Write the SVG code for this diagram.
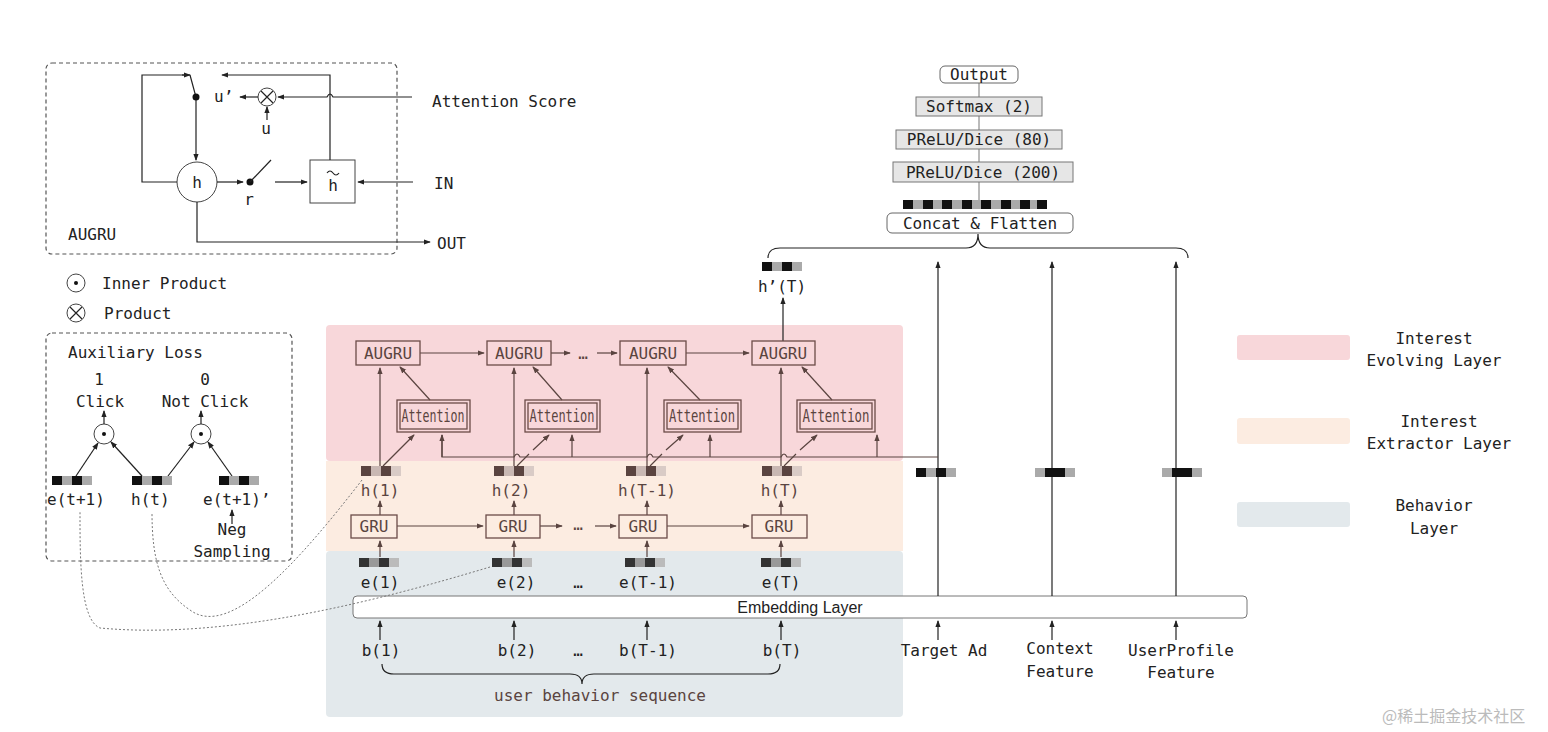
<svg xmlns="http://www.w3.org/2000/svg" width="1548" height="732" viewBox="0 0 1548 732">
<defs>
<marker id="a" viewBox="0 0 8 8" refX="7" refY="4" markerWidth="6" markerHeight="6" orient="auto"><path d="M0,1 L8,4 L0,7z" fill="#222"/></marker>
<marker id="b" viewBox="0 0 8 8" refX="7" refY="4" markerWidth="6" markerHeight="6" orient="auto"><path d="M0,1 L8,4 L0,7z" fill="#5a4440"/></marker>
<style>
text{font-family:"DejaVu Sans Mono",monospace;font-size:16px;fill:#222}
.c{text-anchor:middle}
.br{fill:#5a4440}
.at{font-size:17px}
.bx{fill:none;stroke:#6b4c48;stroke-width:1.3}
.ln{stroke:#222;stroke-width:1.2;fill:none}
.lb{stroke:#5a4440;stroke-width:1.2;fill:none}
.g{fill:#e6e6e6;stroke:#777;stroke-width:1}
.dash{fill:none;stroke:#555;stroke-dasharray:4 3;stroke-width:1.2}
.dot{fill:none;stroke:#777;stroke-dasharray:2 2;stroke-width:1}
</style>
</defs>
<rect width="1548" height="732" fill="#fff"/>
<rect x="326" y="325" width="577" height="136" rx="4" fill="#f8d7da"/>
<rect x="326" y="461" width="577" height="90" fill="#fcece1"/>
<rect x="326" y="551" width="577" height="166" rx="4" fill="#e3e9ec"/>
<g id="legend">
<rect x="1237" y="335" width="113" height="25" rx="3" fill="#f8d7da"/>
<rect x="1237" y="418" width="113" height="26" rx="3" fill="#fcece1"/>
<rect x="1237" y="502" width="113" height="25" rx="3" fill="#e3e9ec"/>
<text class="c" x="1434" y="344">Interest</text><text class="c" x="1434" y="366">Evolving Layer</text>
<text class="c" x="1439" y="427">Interest</text><text class="c" x="1439" y="449">Extractor Layer</text>
<text class="c" x="1434" y="511">Behavior</text><text class="c" x="1434" y="534">Layer</text>
</g>
<g id="augru-cell">
<rect x="46" y="63" width="351" height="191" rx="6" class="dash"/>
<text x="68" y="240">AUGRU</text>
<circle cx="197" cy="182" r="20" fill="#fff" stroke="#444"/>
<text class="c" x="197" y="188">h</text>
<rect x="310" y="160" width="45" height="43" fill="#fff" stroke="#444"/>
<text class="c" x="333" y="191">h</text>
<path d="M327,173 q3,-4 6,0 t6,0" stroke="#222" fill="none" stroke-width="1.2"/>
<path class="ln" d="M177,182 H142 V75 H188"/>
<path class="ln" d="M182,75 H190" marker-end="url(#a)"/>
<path class="ln" d="M190,75 L196,97 V160" marker-end="url(#a)"/>
<circle cx="196" cy="97" r="3.5" fill="#111"/>
<path class="ln" d="M330,160 V75 H222" marker-end="url(#a)"/>
<circle cx="267" cy="97" r="9" fill="#fff" stroke="#444"/>
<path class="ln" d="M261,91 L273,103 M273,91 L261,103"/>
<path class="ln" d="M258,97 H240" marker-end="url(#a)"/>
<text x="214" y="102">u’</text>
<path class="ln" d="M267,120 V107" marker-end="url(#a)"/>
<text class="c" x="266" y="134">u</text>
<path class="ln" d="M412,97 H333 q-3,-6 -6,0 H278" marker-end="url(#a)"/>
<path class="ln" d="M217,182 H243" marker-end="url(#a)"/>
<circle cx="250" cy="182" r="3.5" fill="#111"/>
<path class="ln" d="M250,182 L271,160"/>
<text class="c" x="249" y="205">r</text>
<path class="ln" d="M275,182 H307" marker-end="url(#a)"/>
<path class="ln" d="M413,182 H358" marker-end="url(#a)"/>
<path class="ln" d="M197,202 V242 H430" marker-end="url(#a)"/>
<text x="432" y="107">Attention Score</text>
<text x="434" y="189">IN</text>
<text x="437" y="249">OUT</text>
</g>
<g id="symbols">
<circle cx="76" cy="283" r="9" fill="none" stroke="#444"/><circle cx="76" cy="283" r="2" fill="#111"/>
<text x="102" y="289">Inner Product</text>
<circle cx="76" cy="313" r="9" fill="none" stroke="#444"/><path class="ln" d="M70,307 L82,319 M82,307 L70,319"/>
<text x="104" y="319">Product</text>
</g>
<g id="aux-loss">
<rect x="46" y="333" width="246" height="228" rx="6" class="dash"/>
<text x="68" y="358">Auxiliary Loss</text>
<text class="c" x="99" y="385">1</text><text class="c" x="100" y="407">Click</text>
<text class="c" x="205" y="385">0</text><text class="c" x="205" y="407">Not Click</text>
<circle cx="104" cy="434" r="10" fill="none" stroke="#444"/><circle cx="104" cy="434" r="2" fill="#111"/>
<circle cx="201" cy="434" r="10" fill="none" stroke="#444"/><circle cx="201" cy="434" r="2" fill="#111"/>
<path class="ln" d="M104,424 V411" marker-end="url(#a)"/>
<path class="ln" d="M201,424 V411" marker-end="url(#a)"/>
<path class="ln" d="M76,476 L98,443" marker-end="url(#a)"/>
<path class="ln" d="M142,476 L111,442" marker-end="url(#a)"/>
<path class="ln" d="M168,476 L194,442" marker-end="url(#a)"/>
<path class="ln" d="M232,476 L208,442" marker-end="url(#a)"/>
<g><rect x="52" y="476" width="10" height="9" fill="#111"/><rect x="62" y="476" width="10" height="9" fill="#aaa"/><rect x="72" y="476" width="10" height="9" fill="#111"/><rect x="82" y="476" width="10" height="9" fill="#aaa"/></g>
<g><rect x="132" y="476" width="10" height="9" fill="#111"/><rect x="142" y="476" width="10" height="9" fill="#aaa"/><rect x="152" y="476" width="10" height="9" fill="#111"/><rect x="162" y="476" width="10" height="9" fill="#aaa"/></g>
<g><rect x="219" y="476" width="10" height="9" fill="#111"/><rect x="229" y="476" width="10" height="9" fill="#aaa"/><rect x="239" y="476" width="10" height="9" fill="#111"/><rect x="249" y="476" width="10" height="9" fill="#aaa"/></g>
<text x="47" y="505">e(t+1)</text><text x="131" y="505">h(t)</text><text x="203" y="505">e(t+1)’</text>
<path class="ln" d="M232,524 V510" marker-end="url(#a)"/>
<text class="c" x="232" y="535">Neg</text><text class="c" x="232" y="557">Sampling</text>
</g>
<g id="embedding"><rect x="353" y="596" width="894" height="22" rx="4" fill="#fff" stroke="#777"/>
<text class="c" x="800" y="613" style="font-family:'Liberation Sans',sans-serif">Embedding Layer</text></g>
<g id="inputs">
<text class="c" x="381" y="656">b(1)</text><text class="c" x="517" y="656">b(2)</text><text class="c" x="578" y="656">…</text><text class="c" x="648" y="656">b(T-1)</text><text class="c" x="782" y="656">b(T)</text>
<path class="ln" d="M382,664 q0,10 12,10 H570 q12,0 12,10 q0,-10 12,-10 H768 q12,0 12,-10"/>
<text class="c br" x="600" y="701">user behavior sequence</text>
<text class="c" x="944" y="656">Target Ad</text>
<text class="c" x="1060" y="654">Context</text><text class="c" x="1060" y="677">Feature</text>
<text class="c" x="1181" y="656">UserProfile</text><text class="c" x="1181" y="678">Feature</text>
</g>
<g id="connectors">
<path class="ln" d="M380,640 V621" marker-end="url(#a)"/>
<path class="ln" d="M514,640 V621" marker-end="url(#a)"/>
<path class="ln" d="M647,640 V621" marker-end="url(#a)"/>
<path class="ln" d="M781,640 V621" marker-end="url(#a)"/>
<path class="ln" d="M938,640 V621" marker-end="url(#a)"/>
<path class="ln" d="M1052,640 V621" marker-end="url(#a)"/>
<path class="ln" d="M1176,640 V621" marker-end="url(#a)"/>
<path class="ln" d="M938,596 V262" marker-end="url(#a)"/>
<path class="ln" d="M1052,596 V262" marker-end="url(#a)"/>
<path class="ln" d="M1176,596 V262" marker-end="url(#a)"/>
<path class="ln" d="M768,258 q0,-10 12,-10 H966 q12,0 12,-14 q0,14 12,14 H1176 q12,0 12,10"/>
<path d="M979,200 V83" stroke="#777" fill="none"/>
<path class="ln" d="M783,341 V298" marker-end="url(#a)"/>
<path class="lb" d="M380,557 V541" marker-end="url(#b)"/>
<path class="lb" d="M514,557 V541" marker-end="url(#b)"/>
<path class="lb" d="M647,557 V541" marker-end="url(#b)"/>
<path class="lb" d="M781,557 V541" marker-end="url(#b)"/>
<path class="lb" d="M380,515 V501" marker-end="url(#b)"/>
<path class="lb" d="M514,515 V501" marker-end="url(#b)"/>
<path class="lb" d="M647,515 V501" marker-end="url(#b)"/>
<path class="lb" d="M781,515 V501" marker-end="url(#b)"/>
<path class="lb" d="M397,526 H483" marker-end="url(#b)"/>
<path class="lb" d="M540,526 H562" marker-end="url(#b)"/>
<path class="lb" d="M595,526 H616" marker-end="url(#b)"/>
<path class="lb" d="M667,526 H749" marker-end="url(#b)"/>
<path class="lb" d="M380,466 V368" marker-end="url(#b)"/>
<path class="lb" d="M514,466 V368" marker-end="url(#b)"/>
<path class="lb" d="M647,466 V368" marker-end="url(#b)"/>
<path class="lb" d="M781,466 V368" marker-end="url(#b)"/>
<path class="lb" d="M420,353 H484" marker-end="url(#b)"/>
<path class="lb" d="M551,353 H570" marker-end="url(#b)"/>
<path class="lb" d="M597,353 H617" marker-end="url(#b)"/>
<path class="lb" d="M686,353 H749" marker-end="url(#b)"/>
<path class="lb" d="M430,400 L400,367" marker-end="url(#b)"/>
<path class="lb" d="M562,400 L533,367" marker-end="url(#b)"/>
<path class="lb" d="M700,400 L668,367" marker-end="url(#b)"/>
<path class="lb" d="M832,400 L802,367" marker-end="url(#b)"/>
<path class="lb" d="M383,466 L414,435" marker-end="url(#b)"/>
<path class="lb" d="M517,466 L529,454 M533,450 L549,435" marker-end="url(#b)"/>
<path class="lb" d="M650,466 L662,454 M666,450 L683,435" marker-end="url(#b)"/>
<path class="lb" d="M784,466 L796,454 M800,450 L817,435" marker-end="url(#b)"/>
<path class="lb" d="M938,457 H787 q-3,-6 -6,0 H653 q-3,-6 -6,0 H520 q-3,-6 -6,0 H442 V435"/>
<path class="lb" d="M442,457 V435" marker-end="url(#b)"/>
<path class="lb" d="M572,457 V435" marker-end="url(#b)"/>
<path class="lb" d="M710,457 V435" marker-end="url(#b)"/>
<path class="lb" d="M877,457 V435" marker-end="url(#b)"/>
<path class="dot" d="M362,480 C300,560 230,640 190,610 C160,590 152,560 152,512"/>
<path class="dot" d="M490,567 C380,600 230,640 100,628 C80,620 80,560 80,512"/>
</g>
<g id="augru1"><rect class="bx" x="356" y="341" width="64" height="24"/><text class="c br" x="388" y="359">AUGRU</text></g>
<g id="augru2"><rect class="bx" x="487" y="341" width="64" height="24"/><text class="c br" x="519" y="359">AUGRU</text></g>
<text class="c br" x="583" y="359">…</text>
<g id="augru3"><rect class="bx" x="620" y="341" width="66" height="24"/><text class="c br" x="653" y="359">AUGRU</text></g>
<g id="augru4"><rect class="bx" x="752" y="341" width="63" height="24"/><text class="c br" x="783" y="359">AUGRU</text></g>
<g id="att1"><rect class="bx" x="397" y="400" width="73" height="32"/><rect class="bx" x="400" y="403" width="67" height="26"/><text class="c br at" x="433" y="422" textLength="63" lengthAdjust="spacingAndGlyphs">Attention</text></g>
<g id="att2"><rect class="bx" x="525" y="400" width="75" height="32"/><rect class="bx" x="528" y="403" width="69" height="26"/><text class="c br at" x="562" y="422" textLength="65" lengthAdjust="spacingAndGlyphs">Attention</text></g>
<g id="att3"><rect class="bx" x="664" y="400" width="77" height="32"/><rect class="bx" x="667" y="403" width="71" height="26"/><text class="c br at" x="702" y="422" textLength="66" lengthAdjust="spacingAndGlyphs">Attention</text></g>
<g id="att4"><rect class="bx" x="797" y="400" width="78" height="32"/><rect class="bx" x="800" y="403" width="72" height="26"/><text class="c br at" x="836" y="422" textLength="67" lengthAdjust="spacingAndGlyphs">Attention</text></g>
<g id="hvecs">
<g transform="translate(361,466)"><rect width="10" height="10" fill="#5a4440"/><rect x="10" width="10" height="10" fill="#c9b8b3"/><rect x="20" width="10" height="10" fill="#5a4440"/><rect x="30" width="10" height="10" fill="#d9cbc6"/></g>
<g transform="translate(494,466)"><rect width="10" height="10" fill="#5a4440"/><rect x="10" width="10" height="10" fill="#c9b8b3"/><rect x="20" width="10" height="10" fill="#5a4440"/><rect x="30" width="10" height="10" fill="#d9cbc6"/></g>
<g transform="translate(626,466)"><rect width="10" height="10" fill="#5a4440"/><rect x="10" width="10" height="10" fill="#c9b8b3"/><rect x="20" width="10" height="10" fill="#5a4440"/><rect x="30" width="10" height="10" fill="#d9cbc6"/></g>
<g transform="translate(762,466)"><rect width="10" height="10" fill="#5a4440"/><rect x="10" width="10" height="10" fill="#c9b8b3"/><rect x="20" width="10" height="10" fill="#5a4440"/><rect x="30" width="10" height="10" fill="#d9cbc6"/></g>
<text class="c br" x="380" y="496">h(1)</text><text class="c br" x="511" y="496">h(2)</text><text class="c br" x="647" y="496">h(T-1)</text><text class="c br" x="780" y="496">h(T)</text>
</g>
<g id="gru1"><rect class="bx" x="351" y="515" width="46" height="23"/><text class="c br" x="374" y="532">GRU</text></g>
<g id="gru2"><rect class="bx" x="486" y="515" width="54" height="23"/><text class="c br" x="513" y="532">GRU</text></g>
<text class="c br" x="578" y="530">…</text>
<g id="gru3"><rect class="bx" x="619" y="515" width="48" height="23"/><text class="c br" x="643" y="532">GRU</text></g>
<g id="gru4"><rect class="bx" x="752" y="515" width="55" height="23"/><text class="c br" x="779" y="532">GRU</text></g>
<g id="evecs">
<g transform="translate(359,558)"><rect width="10" height="9" fill="#333"/><rect x="10" width="10" height="9" fill="#999"/><rect x="20" width="10" height="9" fill="#333"/><rect x="30" width="10" height="9" fill="#bbb"/></g>
<g transform="translate(492,558)"><rect width="10" height="9" fill="#333"/><rect x="10" width="10" height="9" fill="#999"/><rect x="20" width="10" height="9" fill="#333"/><rect x="30" width="10" height="9" fill="#bbb"/></g>
<g transform="translate(625,558)"><rect width="10" height="9" fill="#333"/><rect x="10" width="10" height="9" fill="#999"/><rect x="20" width="10" height="9" fill="#333"/><rect x="30" width="10" height="9" fill="#bbb"/></g>
<g transform="translate(761,558)"><rect width="10" height="9" fill="#333"/><rect x="10" width="10" height="9" fill="#999"/><rect x="20" width="10" height="9" fill="#333"/><rect x="30" width="10" height="9" fill="#bbb"/></g>
<text class="c" x="380" y="588">e(1)</text><text class="c" x="516" y="588">e(2)</text><text class="c" x="578" y="588">…</text><text class="c" x="648" y="588">e(T-1)</text><text class="c" x="781" y="588">e(T)</text>
</g>
<g id="feat-vecs">
<g transform="translate(916,468)"><rect width="10" height="9" fill="#111"/><rect x="10" width="10" height="9" fill="#aaa"/><rect x="20" width="10" height="9" fill="#111"/><rect x="30" width="10" height="9" fill="#aaa"/></g>
<g transform="translate(1035,468)"><rect width="10" height="9" fill="#aaa"/><rect x="10" width="10" height="9" fill="#111"/><rect x="20" width="10" height="9" fill="#111"/><rect x="30" width="10" height="9" fill="#aaa"/></g>
<g transform="translate(1162,468)"><rect width="10" height="9" fill="#aaa"/><rect x="10" width="10" height="9" fill="#111"/><rect x="20" width="10" height="9" fill="#111"/><rect x="30" width="10" height="9" fill="#aaa"/></g>
<g transform="translate(762,262)"><rect width="10" height="9" fill="#111"/><rect x="10" width="10" height="9" fill="#aaa"/><rect x="20" width="10" height="9" fill="#111"/><rect x="30" width="10" height="9" fill="#aaa"/></g>
<text class="c" x="782" y="292">h’(T)</text>
</g>
<g id="concat"><rect x="887" y="213" width="186" height="20" rx="5" fill="#fff" stroke="#666"/><text class="c" x="980" y="229">Concat &amp; Flatten</text></g>
<g id="flat-vec" transform="translate(903,200)">
<rect width="144" height="9" fill="#aaa"/>
<rect x="0" width="10" height="9" fill="#111"/><rect x="20" width="10" height="9" fill="#111"/><rect x="39" width="10" height="9" fill="#111"/><rect x="59" width="10" height="9" fill="#111"/><rect x="78" width="10" height="9" fill="#111"/><rect x="98" width="10" height="9" fill="#111"/><rect x="117" width="10" height="9" fill="#111"/><rect x="134" width="10" height="9" fill="#111"/>
</g>
<g id="prelu200"><rect class="g" x="893" y="162" width="180" height="20"/><text class="c" x="983" y="178">PReLU/Dice (200)</text></g>
<g id="prelu80"><rect class="g" x="896" y="130" width="166" height="19"/><text class="c" x="979" y="145">PReLU/Dice (80)</text></g>
<g id="softmax"><rect class="g" x="916" y="97" width="126" height="19"/><text class="c" x="979" y="112">Softmax (2)</text></g>
<g id="output"><rect x="940" y="66" width="78" height="17" rx="5" fill="#fff" stroke="#666"/><text class="c" x="979" y="80">Output</text></g>
<text x="1382" y="722" style="font-family:'Noto Sans CJK SC',sans-serif;font-size:16px;fill:#bbb">@稀土掘金技术社区</text>
</svg>
